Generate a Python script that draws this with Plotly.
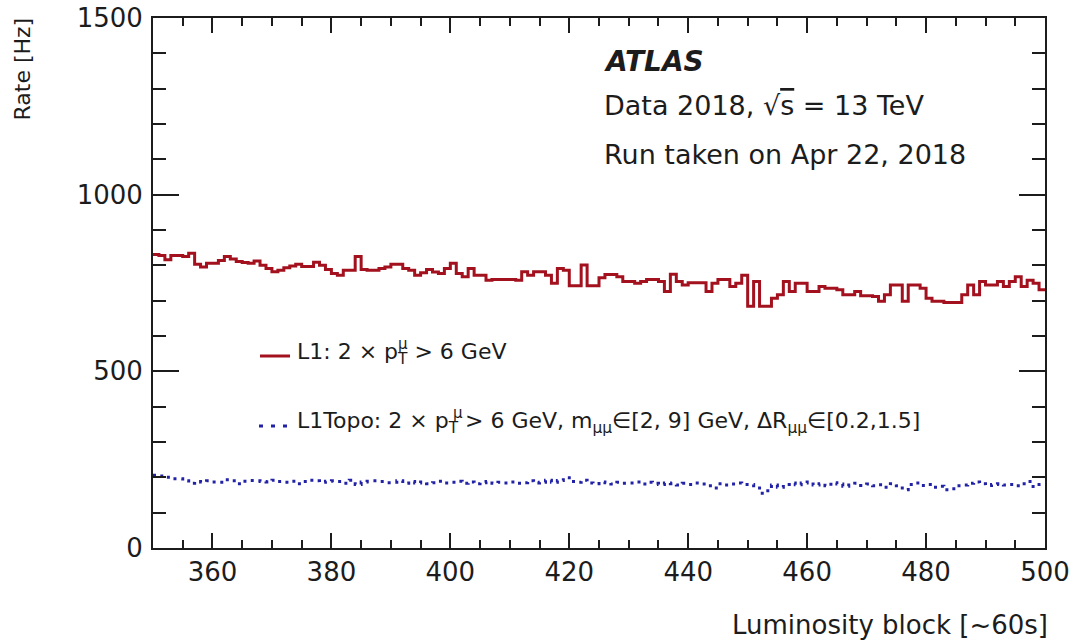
import plotly.graph_objects as go

# Luminosity-block bin edges (one bin per LB, 350 -> 500)
lb_edges = list(range(350, 501))

# L1 dimuon trigger rate [Hz], one value per luminosity block 350..499
l1_rate = [
    831, 828, 816, 828, 828, 825, 834, 803, 795, 806,
    806, 814, 825, 818, 811, 808, 806, 812, 800, 791,
    782, 786, 793, 798, 803, 797, 797, 809, 800, 788,
    777, 772, 786, 786, 825, 788, 786, 786, 791, 795,
    803, 803, 791, 786, 772, 779, 788, 781, 777, 791,
    806, 777, 768, 791, 772, 772, 758, 760, 760, 760,
    760, 758, 782, 772, 782, 782, 772, 749, 791, 786,
    742, 742, 801, 742, 742, 765, 774, 774, 768, 754,
    754, 749, 754, 760, 760, 754, 726, 775, 754, 744,
    751, 751, 751, 726, 749, 760, 760, 740, 749, 772,
    684, 754, 684, 684, 707, 717, 754, 726, 749, 749,
    726, 726, 740, 735, 735, 731, 717, 717, 726, 714,
    714, 712, 698, 717, 744, 744, 698, 744, 744, 735,
    707, 698, 698, 695, 695, 695, 717, 744, 717, 754,
    744, 744, 754, 740, 754, 768, 740, 758, 749, 731,
]

# L1Topo dimuon trigger rate [Hz], one value per luminosity block 350..499
l1topo_rate = [
    206, 204, 200, 196, 196, 190, 183, 188, 187, 190,
    187, 186, 193, 190, 182, 189, 191, 190, 188, 187,
    192, 188, 186, 189, 182, 188, 192, 190, 186, 189,
    190, 188, 183, 192, 180, 187, 189, 190, 188, 185,
    186, 190, 183, 188, 184, 187, 182, 185, 189, 184,
    186, 189, 183, 187, 182, 185, 188, 183, 186, 184,
    187, 183, 185, 190, 184, 186, 192, 186, 191, 199,
    188, 186, 192, 184, 182, 187, 185, 181, 186, 183,
    184, 187, 181, 186, 183, 180, 184, 182, 178, 183,
    180, 184, 181, 176, 170, 182, 178, 181, 184, 180,
    180, 176, 155, 162, 178, 172, 180, 184, 179, 184,
    187, 178, 182, 176, 185, 181, 175, 178, 183, 177,
    181, 176, 179, 172, 182, 176, 165, 180, 184, 177,
    180, 172, 175, 165, 168, 176, 178, 183, 187, 182,
    177, 180, 182, 178, 180, 176, 182, 188, 174, 180,
]

x_ticks = [360, 380, 400, 420, 440, 460, 480, 500]
y_ticks = [0, 500, 1000, 1500]

RED = "#a3101e"
BLUE = "#2222a6"
INK = "#1c1c1c"
FONT = "DejaVu Sans"

W, H = 1075, 644
L, R, T, B = 153, 1045, 18, 548


def px(x):
    return (x - L) / (R - L)


def py(y):
    return (B - y) / (B - T)


fig = go.Figure()

# step outlines (histogram style): each value held across its bin
fig.add_trace(go.Scatter(
    x=lb_edges, y=l1topo_rate + [l1topo_rate[-1]], mode="lines", line_shape="hv",
    line=dict(color=BLUE, width=3, dash="3px,5px"), hoverinfo="skip",
))
fig.add_trace(go.Scatter(
    x=lb_edges, y=l1_rate + [l1_rate[-1]], mode="lines", line_shape="hv",
    line=dict(color=RED, width=3), hoverinfo="skip",
))

axis_common = dict(
    ticks="inside", tickwidth=2, tickcolor=INK, showline=True, linewidth=2,
    linecolor=INK, mirror="ticks", showgrid=False, zeroline=False,
    automargin=False,
    tickfont=dict(family=FONT, size=26, color=INK),
)

fig.update_xaxes(
    range=[350, 500], tickmode="array", tickvals=x_ticks,
    ticktext=[str(v) for v in x_ticks], ticklen=15,
    minor=dict(ticks="inside", tick0=350, dtick=5, ticklen=8, tickwidth=2,
               tickcolor=INK, showgrid=False),
    **axis_common,
)
fig.update_yaxes(
    range=[0, 1500], tickmode="array", tickvals=y_ticks,
    ticktext=[str(v) for v in y_ticks], ticklen=26, ticklabelstandoff=3,
    minor=dict(ticks="inside", tick0=0, dtick=100, ticklen=13, tickwidth=2,
               tickcolor=INK, showgrid=False),
    **axis_common,
)

ann = []


def text(x, y, s, size, xanchor="left", yanchor="middle", angle=0, color=INK):
    ann.append(dict(
        x=px(x), y=py(y), xref="paper", yref="paper", text=s, showarrow=False,
        xanchor=xanchor, yanchor=yanchor, textangle=angle,
        font=dict(family=FONT, size=size, color=color),
    ))


# axis titles
text(1050, 625, "Luminosity block [~60s]", 26, xanchor="right")
text(22, 16, "Rate [Hz]", 22, xanchor="center", yanchor="top", angle=-90)

# experiment labels
text(602, 62, "<b><i>ATLAS</i></b>", 28)
text(602, 106, "Data 2018, \u221a<span style=\"text-decoration:overline\">s</span> = 13 TeV", 27)
text(602, 154, "Run taken on Apr 22, 2018", 27)

# legend entries
LEG = 22
text(295, 353, "L1: 2 \u00d7 p<sub>T</sub> > 6 GeV", LEG)
text(295 + 4.604 * LEG, 344, "\u03bc", 15)
text(295, 422,
     "L1Topo: 2 \u00d7 p<sub>T</sub> > 6 GeV, m<sub>\u03bc\u03bc</sub>\u2208[2, 9] GeV, "
     "\u0394R<sub>\u03bc\u03bc</sub>\u2208[0.2,1.5]", LEG)
text(295 + 7.074 * LEG, 413, "\u03bc", 15)

shapes = [
    dict(type="line", xref="paper", yref="paper", x0=px(260), x1=px(290),
         y0=py(356), y1=py(356), line=dict(color=RED, width=3)),
    dict(type="line", xref="paper", yref="paper", x0=px(259), x1=px(291),
         y0=py(426), y1=py(426), line=dict(color=BLUE, width=3, dash="4px,8px")),
]

fig.update_layout(
    width=W, height=644, autosize=False,
    margin=dict(l=L, r=W - R, t=T, b=H - B, pad=0, autoexpand=False),
    paper_bgcolor="white", plot_bgcolor="white", showlegend=False,
    font=dict(family=FONT, color=INK),
    annotations=ann, shapes=shapes,
)

fig.write_html("out.html")
